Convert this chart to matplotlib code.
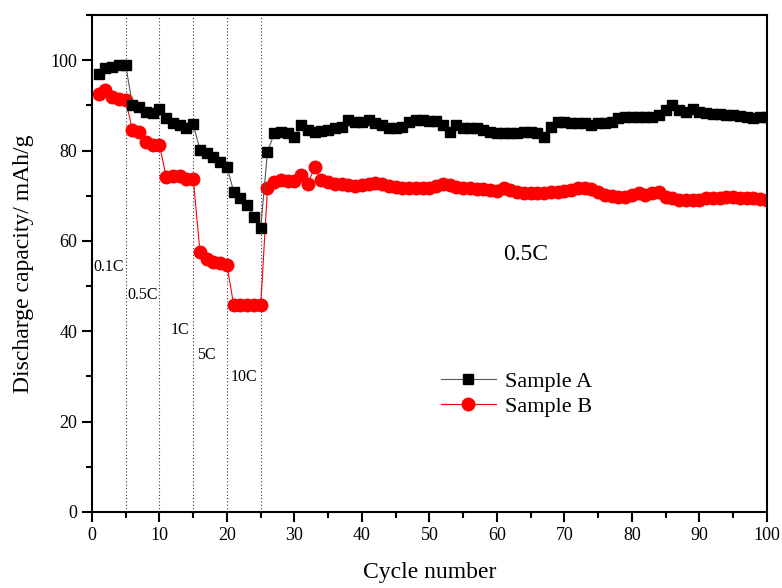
import matplotlib
matplotlib.use("Agg")
import matplotlib.pyplot as plt
from matplotlib.ticker import MultipleLocator

plt.rcParams['font.family'] = ['Liberation Serif', 'DejaVu Serif']
plt.rcParams['mathtext.fontset'] = 'stix'

cycles = list(range(1, 101))
sample_a = [97.0, 98.2, 98.5, 98.9, 98.9,
            90.0, 89.7, 88.6, 88.2, 89.3,
            87.1, 86.0, 85.6, 84.9, 85.8,
            80.2, 79.4, 78.6, 77.5, 76.4,
            70.9, 69.4, 67.9, 65.3, 62.8,
            79.7, 83.8, 84.1, 83.8, 83.0,
            85.6, 84.5, 84.1, 84.3, 84.5, 84.9, 85.3, 86.7, 86.4, 86.4,
            86.7, 86.0, 85.6, 84.9, 84.9, 85.3, 86.4, 86.7, 86.7, 86.6,
            86.6, 85.6, 84.1, 85.6, 84.9, 84.9, 84.9, 84.5, 84.1, 83.8,
            83.8, 83.8, 83.8, 84.1, 84.1, 83.8, 83.0, 85.2, 86.4, 86.4,
            86.0, 86.0, 86.0, 85.6, 86.0, 86.0, 86.4, 87.1, 87.5, 87.5,
            87.5, 87.5, 87.5, 87.8, 88.9, 90.0, 88.9, 88.5, 89.3, 88.5,
            88.2, 88.0, 88.0, 87.8, 87.8, 87.6, 87.5, 87.1, 87.5, 87.5]
sample_b = [92.6, 93.4, 91.9, 91.3, 91.2,
            84.5, 84.1, 81.9, 81.2, 81.2,
            74.2, 74.3, 74.3, 73.8, 73.8,
            57.6, 56.1, 55.4, 55.0, 54.6,
            45.8, 45.8, 45.8, 45.8, 45.7,
            71.6, 73.1, 73.5, 73.2, 73.2,
            74.6, 72.7, 76.4, 73.5, 73.1, 72.7, 72.6, 72.3, 72.2, 72.3,
            72.6, 72.9, 72.6, 72.2, 72.0, 71.8, 71.6, 71.6, 71.6, 71.8,
            72.1, 72.7, 72.3, 72.0, 71.8, 71.6, 71.4, 71.4, 71.2, 71.0,
            71.6, 71.2, 70.9, 70.5, 70.5, 70.5, 70.6, 70.9, 70.9, 71.0,
            71.2, 71.6, 71.8, 71.4, 70.9, 70.1, 69.9, 69.8, 69.8, 70.1,
            70.5, 70.1, 70.5, 70.9, 69.8, 69.4, 69.0, 69.0, 69.0, 69.1,
            69.4, 69.6, 69.6, 69.8, 69.8, 69.6, 69.6, 69.4, 69.2, 69.0]
rate_bounds = [5, 10, 15, 20, 25]
rate_labels = ["0.1C", "0.5C", "1C", "5C", "10C"]
rate_label_pos = [(0.15, 54.2), (5.3, 48.0), (11.6, 40.3), (15.6, 34.7), (20.6, 29.9)]

fig = plt.figure(figsize=(7.82, 5.88), dpi=100)
ax = fig.add_axes([0.1176, 0.1293, 0.8632, 0.8452])

for b in rate_bounds:
    ax.axvline(b, color='#333333', linestyle=(0, (1, 2)), linewidth=0.8, zorder=1)

ax.plot(cycles, sample_a, color='#555555', linewidth=0.8, marker='s', markersize=7.5,
        markerfacecolor='black', markeredgecolor='black', label='Sample A', zorder=3)
ax.plot(cycles, sample_b, color='red', linewidth=0.8, marker='o', markersize=9,
        markerfacecolor='red', markeredgecolor='red', label='Sample B', zorder=2)

for lab, (x, y) in zip(rate_labels, rate_label_pos):
    ax.text(x, y, lab, fontsize=11.5, ha='left', va='center')
ax.text(60.9, 56.9, "0.5C", fontsize=17, ha='left', va='center')

ax.set_xlim(0, 100)
ax.set_ylim(0, 110)
ax.xaxis.set_major_locator(MultipleLocator(10))
ax.xaxis.set_minor_locator(MultipleLocator(5))
ax.yaxis.set_major_locator(MultipleLocator(20))
ax.yaxis.set_minor_locator(MultipleLocator(10))
ax.tick_params(which='both', direction='out', top=False, right=False, labelsize=13, width=1.5)
ax.tick_params(which='major', length=7)
ax.tick_params(which='minor', length=4)
for s in ax.spines.values():
    s.set_linewidth(1.5)

ax.set_xlabel("Cycle number", fontsize=17, labelpad=13)
ax.set_ylabel("Discharge capacity/ mAh/g", fontsize=17, labelpad=12)

ax.legend(loc='center left', bbox_to_anchor=(0.487, 0.237), frameon=False, fontsize=16,
          handlelength=2.5, handletextpad=0.4, labelspacing=0.2)

fig.savefig("out.png", dpi=100)
